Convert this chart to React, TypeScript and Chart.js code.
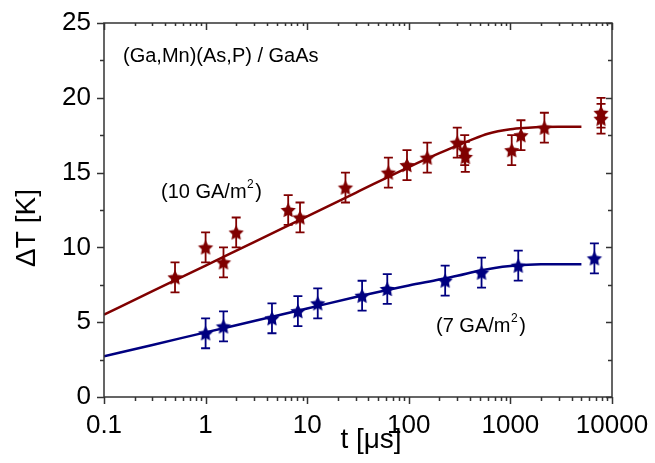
import React, { useEffect, useRef } from 'react';
import { Chart, registerables } from 'chart.js';

Chart.register(...registerables);

// ---- data ----
const X_TICKS = [0.1, 1, 10, 100, 1000, 10000];
const X_TICK_LABELS = ['0.1', '1', '10', '100', '1000', '10000'];
const Y_TICKS = [0, 5, 10, 15, 20, 25];

const redT = [0.5, 1, 1.5, 2, 6.5, 8.5, 23.8, 63, 96, 152, 300, 355, 360, 1030, 1270, 2160, 7800, 7800];
const redDT = [8.0, 10.0, 9.0, 11.0, 12.5, 12.0, 14.0, 15.0, 15.5, 16.0, 17.0, 16.5, 16.05, 16.5, 17.5, 18.0, 19.0, 18.6];
const redErr = [1, 1, 1, 1, 1, 1, 1, 1, 1, 1, 1, 1, 1, 1, 1, 1, 1, 1];

const blueT = [1, 1.5, 4.5, 8.1, 12.7, 34.7, 61.4, 228, 520, 1195, 6710];
const blueDT = [4.26, 4.72, 5.26, 5.74, 6.26, 6.77, 7.22, 7.78, 8.31, 8.78, 9.27];
const blueErr = [1, 1, 1, 1, 1, 1, 1, 1, 1, 1, 1];

const redFitT = [0.1, 0.3, 1, 3, 10, 30, 100, 200, 300, 400, 600, 1000, 1500, 2000, 3000, 5000];
const redFitDT = [5.5, 7.07, 8.79, 10.36, 12.08, 13.65, 15.37, 16.3, 16.8, 17.15, 17.6, 17.9, 18.0, 18.05, 18.07, 18.07];

const blueFitT = [0.1, 0.3, 1, 3, 10, 30, 100, 200, 300, 500, 700, 1000, 1500, 2000, 3000, 5000];
const blueFitDT = [2.72, 3.48, 4.32, 5.08, 5.92, 6.68, 7.45, 7.85, 8.1, 8.45, 8.63, 8.76, 8.84, 8.87, 8.88, 8.88];

const RED = '#800000';
const BLUE = '#000080';
const AXIS = '#333333';
const FONT = "'Liberation Sans', Arial, sans-serif";

function makeStar(color: string, R: number): HTMLCanvasElement {
  const c = document.createElement('canvas');
  const s = Math.ceil(R * 2 + 2);
  c.width = s;
  c.height = s;
  const ctx = c.getContext('2d')!;
  const cx = s / 2, cy = s / 2 + R * 0.1;
  const r = R * 0.5;
  ctx.beginPath();
  for (let i = 0; i < 10; i++) {
    const rad = i % 2 === 0 ? R : r;
    const a = -Math.PI / 2 + (i * Math.PI) / 5;
    const px = cx + rad * Math.cos(a);
    const py = cy + rad * Math.sin(a);
    if (i === 0) ctx.moveTo(px, py);
    else ctx.lineTo(px, py);
  }
  ctx.closePath();
  ctx.fillStyle = color;
  ctx.fill();
  return c;
}

const errorBarPlugin = {
  id: 'errorBars',
  beforeDatasetDraw(chart: any, args: any) {
    const ds = chart.data.datasets[args.index];
    if (!ds.errors) return;
    const xs = chart.scales.x;
    const ys = chart.scales.y;
    const ctx = chart.ctx;
    ctx.save();
    ctx.strokeStyle = ds.errColor;
    ctx.lineWidth = 1.8;
    ds.data.forEach((p: any, i: number) => {
      const e = ds.errors[i];
      const px = xs.getPixelForValue(p.x);
      const top = ys.getPixelForValue(p.y + e);
      const bot = ys.getPixelForValue(p.y - e);
      ctx.beginPath();
      ctx.moveTo(px, top);
      ctx.lineTo(px, bot);
      ctx.moveTo(px - 4.5, top);
      ctx.lineTo(px + 4.5, top);
      ctx.moveTo(px - 4.5, bot);
      ctx.lineTo(px + 4.5, bot);
      ctx.stroke();
    });
    ctx.restore();
  },
};

const framePlugin = {
  id: 'frame',
  afterDraw(chart: any) {
    const { ctx, chartArea } = chart;
    const { left, right, top, bottom } = chartArea;
    const xs = chart.scales.x;
    const ys = chart.scales.y;
    ctx.save();
    ctx.strokeStyle = AXIS;
    ctx.lineWidth = 1.5;
    ctx.strokeRect(left, top, right - left, bottom - top);
    ctx.beginPath();
    // x ticks
    for (let d = -1; d <= 4; d++) {
      for (let m = 1; m <= 9; m++) {
        const v = m * Math.pow(10, d);
        if (v > 10000.001) continue;
        const px = Math.round(xs.getPixelForValue(v)) + 0.5;
        const major = m === 1;
        ctx.moveTo(px, bottom);
        ctx.lineTo(px, bottom + (major ? 7 : 4));
        ctx.moveTo(px, top);
        ctx.lineTo(px, top + (major ? 7 : 3));
      }
    }
    // y ticks
    for (let v = 0; v <= 25; v += 2.5) {
      const py = Math.round(ys.getPixelForValue(v)) + 0.5;
      const major = v % 5 === 0;
      ctx.moveTo(left, py);
      ctx.lineTo(left - (major ? 7 : 4), py);
      ctx.moveTo(right, py);
      ctx.lineTo(right - (major ? 6 : 4), py);
    }
    ctx.stroke();

    // annotations
    ctx.fillStyle = '#000';
    ctx.textBaseline = 'alphabetic';
    ctx.textAlign = 'left';
    ctx.font = `20px ${FONT}`;
    ctx.fillText('(Ga,Mn)(As,P) / GaAs', 123, 62);

    const drawSup = (x: number, y: number, pre: string, sup: string, post: string) => {
      ctx.font = `20px ${FONT}`;
      ctx.fillText(pre, x, y);
      let w = ctx.measureText(pre).width;
      ctx.font = `12px ${FONT}`;
      ctx.fillText(sup, x + w + 0.5, y - 10);
      w += ctx.measureText(sup).width + 2;
      ctx.font = `20px ${FONT}`;
      ctx.fillText(post, x + w, y);
    };
    drawSup(161, 198, '(10 GA/m', '2', ')');
    drawSup(436, 332, '(7 GA/m', '2', ')');

    // axis titles
    ctx.font = `28px ${FONT}`;
    ctx.textAlign = 'center';
    ctx.fillText('t [\u03bcs]', 371, 448);
    ctx.save();
    ctx.translate(35, 228);
    ctx.rotate(-Math.PI / 2);
    ctx.fillText('\u0394T [K]', 0, 0);
    ctx.restore();
    ctx.restore();
  },
};

export default function App() {
  const ref = useRef<HTMLCanvasElement | null>(null);
  useEffect(() => {
    if (!ref.current) return;
    const redStar = makeStar(RED, 8);
    const blueStar = makeStar(BLUE, 8);
    const chart = new Chart(ref.current, {
      type: 'scatter',
      data: {
        datasets: [
          {
            label: 'fit 10 GA/m2',
            data: redFitT.map((t, i) => ({ x: t, y: redFitDT[i] })),
            showLine: true,
            borderColor: RED,
            borderWidth: 2.5,
            pointRadius: 0,
            cubicInterpolationMode: 'monotone',
          } as any,
          {
            label: 'fit 7 GA/m2',
            data: blueFitT.map((t, i) => ({ x: t, y: blueFitDT[i] })),
            showLine: true,
            borderColor: BLUE,
            borderWidth: 2.5,
            pointRadius: 0,
            cubicInterpolationMode: 'monotone',
          } as any,
          {
            label: '10 GA/m2',
            data: redT.map((t, i) => ({ x: t, y: redDT[i] })),
            pointStyle: redStar,
            pointRadius: 8,
            errors: redErr,
            errColor: RED,
          } as any,
          {
            label: '7 GA/m2',
            data: blueT.map((t, i) => ({ x: t, y: blueDT[i] })),
            pointStyle: blueStar,
            pointRadius: 8,
            errors: blueErr,
            errColor: BLUE,
          } as any,
        ],
      },
      options: {
        responsive: false,
        animation: false,
        devicePixelRatio: 1,
        layout: { padding: { left: 0, right: 43, top: 23, bottom: 0 } },
        plugins: { legend: { display: false }, tooltip: { enabled: false } },
        scales: {
          x: {
            type: 'logarithmic',
            min: 0.1,
            max: 10000,
            afterBuildTicks: (s: any) => {
              s.ticks = X_TICKS.map((v) => ({ value: v }));
            },
            afterFit: (s: any) => {
              s.height = 66;
            },
            ticks: {
              autoSkip: false,
              maxRotation: 0,
              padding: 6,
              color: '#000',
              font: { family: FONT, size: 26 },
              callback: (_v: any, i: number) => X_TICK_LABELS[i],
            },
            grid: { display: false, drawTicks: true, tickLength: 7 },
            border: { display: false },
          },
          y: {
            type: 'linear',
            min: 0,
            max: 25,
            afterBuildTicks: (s: any) => {
              s.ticks = Y_TICKS.map((v) => ({ value: v }));
            },
            afterFit: (s: any) => {
              s.width = 104;
            },
            ticks: {
              padding: 6,
              color: '#000',
              font: { family: FONT, size: 26 },
              callback: (v: any) => String(v),
            },
            grid: { display: false, drawTicks: true, tickLength: 7 },
            border: { display: false },
          },
        },
      } as any,
      plugins: [errorBarPlugin, framePlugin],
    });
    return () => chart.destroy();
  }, []);
  return (
    <div style={{ position: 'fixed', left: 0, top: 0, width: 655, height: 463, background: '#fff' }}>
      <canvas ref={ref} width={655} height={463} style={{ width: 655, height: 463 }} />
    </div>
  );
}
